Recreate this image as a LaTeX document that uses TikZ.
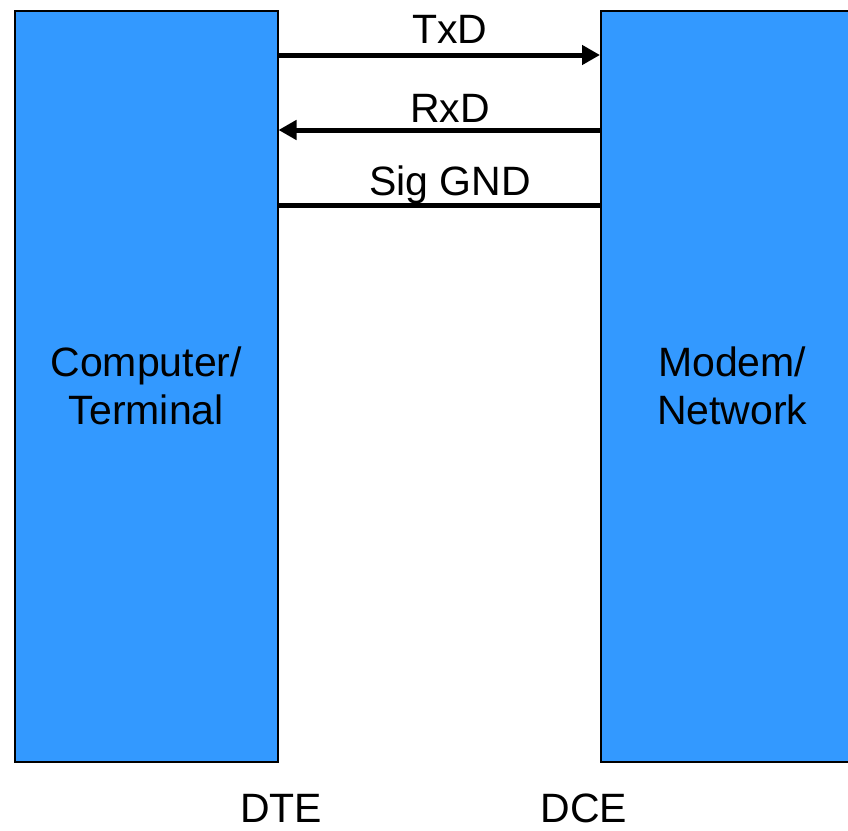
\documentclass[tikz,border=0pt]{standalone}
\usepackage{fontspec}
\setmainfont{Liberation Sans}
\usetikzlibrary{arrows.meta}
\definecolor{boxblue}{HTML}{3399FF}
\begin{document}
\begin{tikzpicture}[x=1pt,y=-1pt,
  device/.style={draw=black, line width=1.5pt, fill=boxblue, minimum width=263pt, minimum height=751pt, inner sep=0pt, align=center, font=\fontsize{41}{48}\selectfont, anchor=north west},
  lbl/.style={font=\fontsize{41}{48}\selectfont, anchor=base, inner sep=0pt},
  wire/.style={line width=5pt},
  tip/.style={-{Triangle[length=18pt,width=19pt]}}]
\useasboundingbox (0,0) rectangle (848,830);
\clip (0,0) rectangle (848,830);
\node[device] (dte) at (14,10) {Computer/\\Terminal};
\node[device] (dce) at (600,10) {Modem/\\Network};
\coordinate (y1) at (0,55);
\coordinate (y2) at (0,130);
\coordinate (y3) at (0,205);
\draw[wire,tip] (dte.east |- y1) -- (dce.west |- y1);
\draw[wire,tip] (dce.west |- y2) -- (dte.east |- y2);
\draw[wire] (dte.east |- y3) -- (dce.west |- y3);
\node[lbl] (txd) at (450,43) {TxD};
\node[lbl] (rxd) at (450,122) {RxD};
\node[lbl] (gnd) at (450,195) {Sig GND};
\node[lbl] (dtel) at (281,822) {DTE};
\node[lbl] (dcel) at (584,822) {DCE};
\end{tikzpicture}
\end{document}
